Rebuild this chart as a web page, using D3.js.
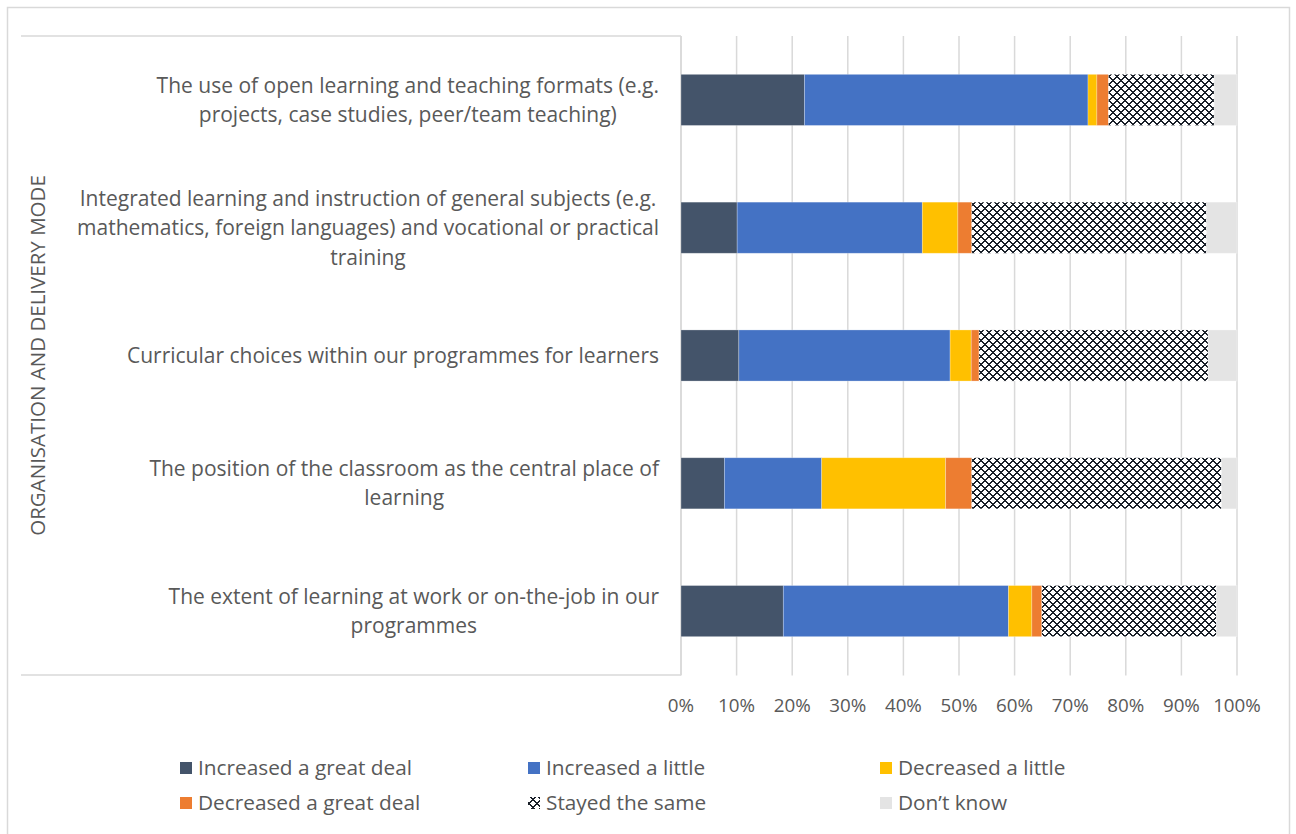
<!DOCTYPE html>
<html>
<head>
<meta charset="utf-8">
<script src="https://cdn.jsdelivr.net/npm/d3@7"></script>
<style>
  html, body { margin: 0; padding: 0; background: #fff; }
  svg { display: block; }
  text { font-family: "Open Sans", Lato, sans-serif; fill: #595959; }
</style>
</head>
<body>
<svg id="chart" width="1296" height="834"></svg>
<script>
// Statements, top to bottom; each entry is the wrapped lines of one label
const categories = [
  ["The use of open learning and teaching formats (e.g.", "projects, case studies, peer/team teaching)"],
  ["Integrated learning and instruction of general subjects (e.g.", "mathematics, foreign languages) and vocational or practical", "training"],
  ["Curricular choices within our programmes for learners"],
  ["The position of the classroom as the central place of", "learning"],
  ["The extent of learning at work or on-the-job in our", "programmes"]
];
const groupTitle = "ORGANISATION AND DELIVERY MODE";

// Share of respondents (%) per answer, in the order of the categories above
const increasedGreatDeal = [22.2, 10.1, 10.4, 7.8, 18.4];
const increasedLittle    = [51.0, 33.3, 38.0, 17.5, 40.5];
const decreasedLittle    = [1.6, 6.4, 3.8, 22.3, 4.2];
const decreasedGreatDeal = [2.1, 2.5, 1.4, 4.7, 1.8];
const stayedSame         = [19.0, 42.2, 41.2, 44.9, 31.4];
const dontKnow           = [4.1, 5.5, 5.2, 2.8, 3.7];

const seriesNames = ["Increased a great deal", "Increased a little", "Decreased a little",
                     "Decreased a great deal", "Stayed the same", "Don\u2019t know"];
const tickValues = [0, 10, 20, 30, 40, 50, 60, 70, 80, 90, 100];
const tickLabels = ["0%", "10%", "20%", "30%", "40%", "50%", "60%", "70%", "80%", "90%", "100%"];

const seriesValues = [increasedGreatDeal, increasedLittle, decreasedLittle,
                      decreasedGreatDeal, stayedSame, dontKnow];
const rows = categories.map((c, i) => {
  const r = { idx: i };
  seriesNames.forEach((s, j) => { r[s] = seriesValues[j][i]; });
  return r;
});

const svg = d3.select("#chart");
const plot = { left: 681, right: 1237, top: 36, bottom: 675 };

// Outer chart frame
svg.append("rect")
  .attr("x", 7.5).attr("y", 7.5).attr("width", 1282).attr("height", 840)
  .attr("fill", "#fff").attr("stroke", "#d9d9d9").attr("stroke-width", 1.5);

// Checker-diamond fill for "Stayed the same"
const defs = svg.append("defs");
const pat = defs.append("pattern")
  .attr("id", "sameFill").attr("patternUnits", "userSpaceOnUse")
  .attr("width", 8).attr("height", 8);
pat.append("rect").attr("width", 8).attr("height", 8).attr("fill", "#fff");
const darkPx = [];
for (let yy = 0; yy < 8; yy++) {
  for (let xx = 0; xx < 8; xx++) {
    const a = (xx + yy) % 8, b = (xx - yy + 8) % 8;
    if (a === 0 || b === 0 || ((a === 1 || b === 1) && (xx + yy) % 2 === 1)) darkPx.push([xx, yy]);
  }
}
pat.selectAll("rect.px").data(darkPx).join("rect")
  .attr("class", "px")
  .attr("x", d => d[0]).attr("y", d => d[1]).attr("width", 1).attr("height", 1)
  .attr("fill", "#1a2029");

const colors = {
  "Increased a great deal": "#44546a",
  "Increased a little": "#4472c4",
  "Decreased a little": "#ffc000",
  "Decreased a great deal": "#ed7d31",
  "Stayed the same": "url(#sameFill)",
  "Don\u2019t know": "#e4e4e4"
};

const x = d3.scaleLinear().domain([0, 100]).range([plot.left, plot.right]);
const y = d3.scaleBand().domain(d3.range(categories.length))
  .range([plot.top, plot.bottom]).paddingInner(0.6).paddingOuter(0.3);

// Vertical gridlines
svg.append("g").selectAll("line").data(tickValues).join("line")
  .attr("x1", d => x(d)).attr("x2", d => x(d))
  .attr("y1", plot.top).attr("y2", plot.bottom + 0.5)
  .attr("stroke", "#d9d9d9").attr("stroke-width", 1.5);

// Category axis: left line plus the group bracket lines
const axisG = svg.append("g").attr("stroke", "#d9d9d9").attr("stroke-width", 1.5).attr("fill", "none");
axisG.append("line").attr("x1", plot.left).attr("x2", plot.left)
  .attr("y1", plot.top).attr("y2", plot.bottom);
axisG.append("line").attr("x1", 21).attr("x2", plot.left)
  .attr("y1", plot.top).attr("y2", plot.top);
axisG.append("line").attr("x1", 21).attr("x2", plot.left)
  .attr("y1", plot.bottom).attr("y2", plot.bottom);

// Stacked bars
const stack = d3.stack().keys(seriesNames);
const layers = stack(rows);
svg.append("g").selectAll("g").data(layers).join("g")
  .attr("fill", d => colors[d.key])
  .selectAll("rect").data(d => d).join("rect")
  .attr("x", d => x(d[0]))
  .attr("width", d => x(d[1]) - x(d[0]))
  .attr("y", d => y(d.data.idx))
  .attr("height", y.bandwidth())
  .attr("stroke", "#ffffff").attr("stroke-opacity", 0.35).attr("stroke-width", 0.75);

// Category labels: lines centred within a block right-aligned to the axis
const labelSize = 21, lineH = 29.5, labelRight = 659;
const labelG = svg.append("g");
categories.forEach((lines, i) => {
  const t = labelG.append("text").attr("font-size", labelSize).attr("text-anchor", "middle");
  const cy = y(i) + y.bandwidth() / 2;
  lines.forEach((ln, k) => {
    t.append("tspan").text(ln)
      .attr("y", cy + (k - (lines.length - 1) / 2) * lineH)
      .attr("dy", "0.35em");
  });
  const widest = d3.max(t.selectAll("tspan").nodes(), n => n.getComputedTextLength());
  t.selectAll("tspan").attr("x", labelRight - widest / 2);
});

// Group title
svg.append("text")
  .attr("transform", `translate(45,${(plot.top + plot.bottom) / 2}) rotate(-90)`)
  .attr("text-anchor", "middle").attr("font-size", 20.5)
  .text(groupTitle);

// Percentage axis labels
svg.append("g").selectAll("text").data(tickValues).join("text")
  .attr("x", d => x(d)).attr("y", 705).attr("dy", "0.35em")
  .attr("text-anchor", "middle").attr("font-size", 18.8)
  .text((d, i) => tickLabels[i]);

// Legend, three columns by two rows
const legendCols = [180, 528, 880], legendRows = [768, 803];
const lg = svg.append("g").selectAll("g").data(seriesNames).join("g")
  .attr("transform", (d, i) => `translate(${legendCols[i % 3]},${legendRows[Math.floor(i / 3)]})`);
lg.append("rect").attr("x", 0).attr("y", -6).attr("width", 12).attr("height", 12)
  .attr("fill", d => colors[d]);
lg.append("text").attr("x", 18).attr("dy", "0.35em").attr("font-size", 20.8)
  .text(d => d);
</script>
</body>
</html>
